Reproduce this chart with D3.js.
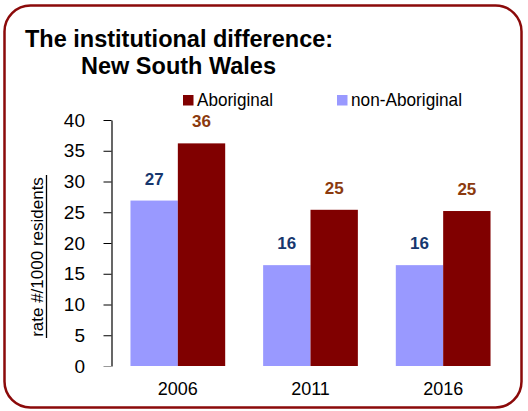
<!DOCTYPE html>
<html>
<head>
<meta charset="utf-8">
<script src="https://cdn.jsdelivr.net/npm/d3@7"></script>
<style>
  html, body { margin: 0; padding: 0; background: #fff; }
  svg { display: block; font-family: "Liberation Sans", Arial, sans-serif; }
</style>
</head>
<body>
<svg id="chart" width="528" height="411"></svg>
<script>
// Institutionalisation rate per 1000 residents, New South Wales
const years = ["2006", "2011", "2016"];
const nonAboriginal = [26.9, 16.4, 16.4];
const aboriginal = [36.2, 25.4, 25.2];
const yTicks = [0, 5, 10, 15, 20, 25, 30, 35, 40];
const seriesNames = ["non-Aboriginal", "Aboriginal"];

const colors = { "non-Aboriginal": "#9999ff", "Aboriginal": "#800000" };
const labelColors = { "non-Aboriginal": "#17376e", "Aboriginal": "#8b3a0e" };

const svg = d3.select("#chart");

// frame
svg.append("rect")
  .attr("x", 4.5).attr("y", 5.5)
  .attr("width", 517).attr("height", 402)
  .attr("rx", 26).attr("ry", 26)
  .attr("fill", "#fff")
  .attr("stroke", "#8b0a0a")
  .attr("stroke-width", 2.5);

// title
svg.append("text").attr("x", 25).attr("y", 47)
  .attr("font-size", 23.5).attr("font-weight", "bold").attr("fill", "#000")
  .text("The institutional difference:");
svg.append("text").attr("x", 81).attr("y", 74)
  .attr("font-size", 23.5).attr("font-weight", "bold").attr("fill", "#000")
  .text("New South Wales");

// scales
const x0 = d3.scaleBand().domain(years).range([111.5, 509.5])
  .paddingInner(0.286).paddingOuter(0.143);
const x1 = d3.scaleBand().domain(seriesNames).range([0, x0.bandwidth()]);
const y = d3.scaleLinear().domain([0, 40]).range([366, 120]);

// y axis
const yAxis = svg.append("g").attr("transform", "translate(111.5,0)")
  .call(d3.axisLeft(y).tickValues(yTicks).tickSize(8).tickSizeOuter(0).tickPadding(18.5));
yAxis.select(".domain").attr("stroke", "#000").attr("stroke-width", 1.2);
yAxis.selectAll(".tick line").attr("stroke", d => d === 0 ? "#999" : "#000");
yAxis.selectAll(".tick text")
  .attr("font-family", "'Liberation Sans', Arial, sans-serif")
  .attr("font-size", 19).attr("fill", "#000");

// y axis title with underline
const yTitle = svg.append("g").attr("transform", "translate(43,257) rotate(-90)");
yTitle.append("text").attr("text-anchor", "middle").attr("x", 0).attr("y", 0)
  .attr("font-size", 17).attr("fill", "#000")
  .text("rate #/1000 residents");
yTitle.append("line").attr("x1", -81).attr("x2", 82).attr("y1", 3.5).attr("y2", 3.5)
  .attr("stroke", "#000").attr("stroke-width", 1.3);

// bars
const rows = years.map((yr, i) => ({
  year: yr,
  values: [
    { key: "non-Aboriginal", value: nonAboriginal[i] },
    { key: "Aboriginal", value: aboriginal[i] }
  ]
}));

const groups = svg.append("g").selectAll("g").data(rows).join("g")
  .attr("transform", d => `translate(${x0(d.year)},0)`);

groups.selectAll("rect").data(d => d.values).join("rect")
  .attr("x", d => x1(d.key))
  .attr("y", d => y(d.value))
  .attr("width", x1.bandwidth())
  .attr("height", d => y(0) - y(d.value))
  .attr("fill", d => colors[d.key]);

groups.selectAll("text").data(d => d.values).join("text")
  .attr("x", d => x1(d.key) + x1.bandwidth() / 2)
  .attr("y", d => y(d.value) - 16)
  .attr("text-anchor", "middle")
  .attr("font-size", 17).attr("font-weight", "bold")
  .attr("fill", d => labelColors[d.key])
  .text(d => d3.format(".0f")(d.value));

// category labels
svg.append("g").selectAll("text").data(years).join("text")
  .attr("x", d => x0(d) + x0.bandwidth() / 2)
  .attr("y", 395)
  .attr("text-anchor", "middle")
  .attr("font-size", 18).attr("fill", "#000")
  .text(d => d);

// legend
const legendItems = [
  { key: "Aboriginal", x: 183, width: 76 },
  { key: "non-Aboriginal", x: 337, width: 111 }
];
const legend = svg.append("g").selectAll("g").data(legendItems).join("g")
  .attr("transform", d => `translate(${d.x},95)`);
legend.append("rect").attr("width", 10.5).attr("height", 10.5)
  .attr("fill", d => colors[d.key]);
legend.append("text").attr("x", 14).attr("y", 11)
  .attr("font-size", 19)
  .attr("textLength", d => d.width).attr("lengthAdjust", "spacingAndGlyphs")
  .attr("fill", "#000")
  .text(d => d.key);
</script>
</body>
</html>
